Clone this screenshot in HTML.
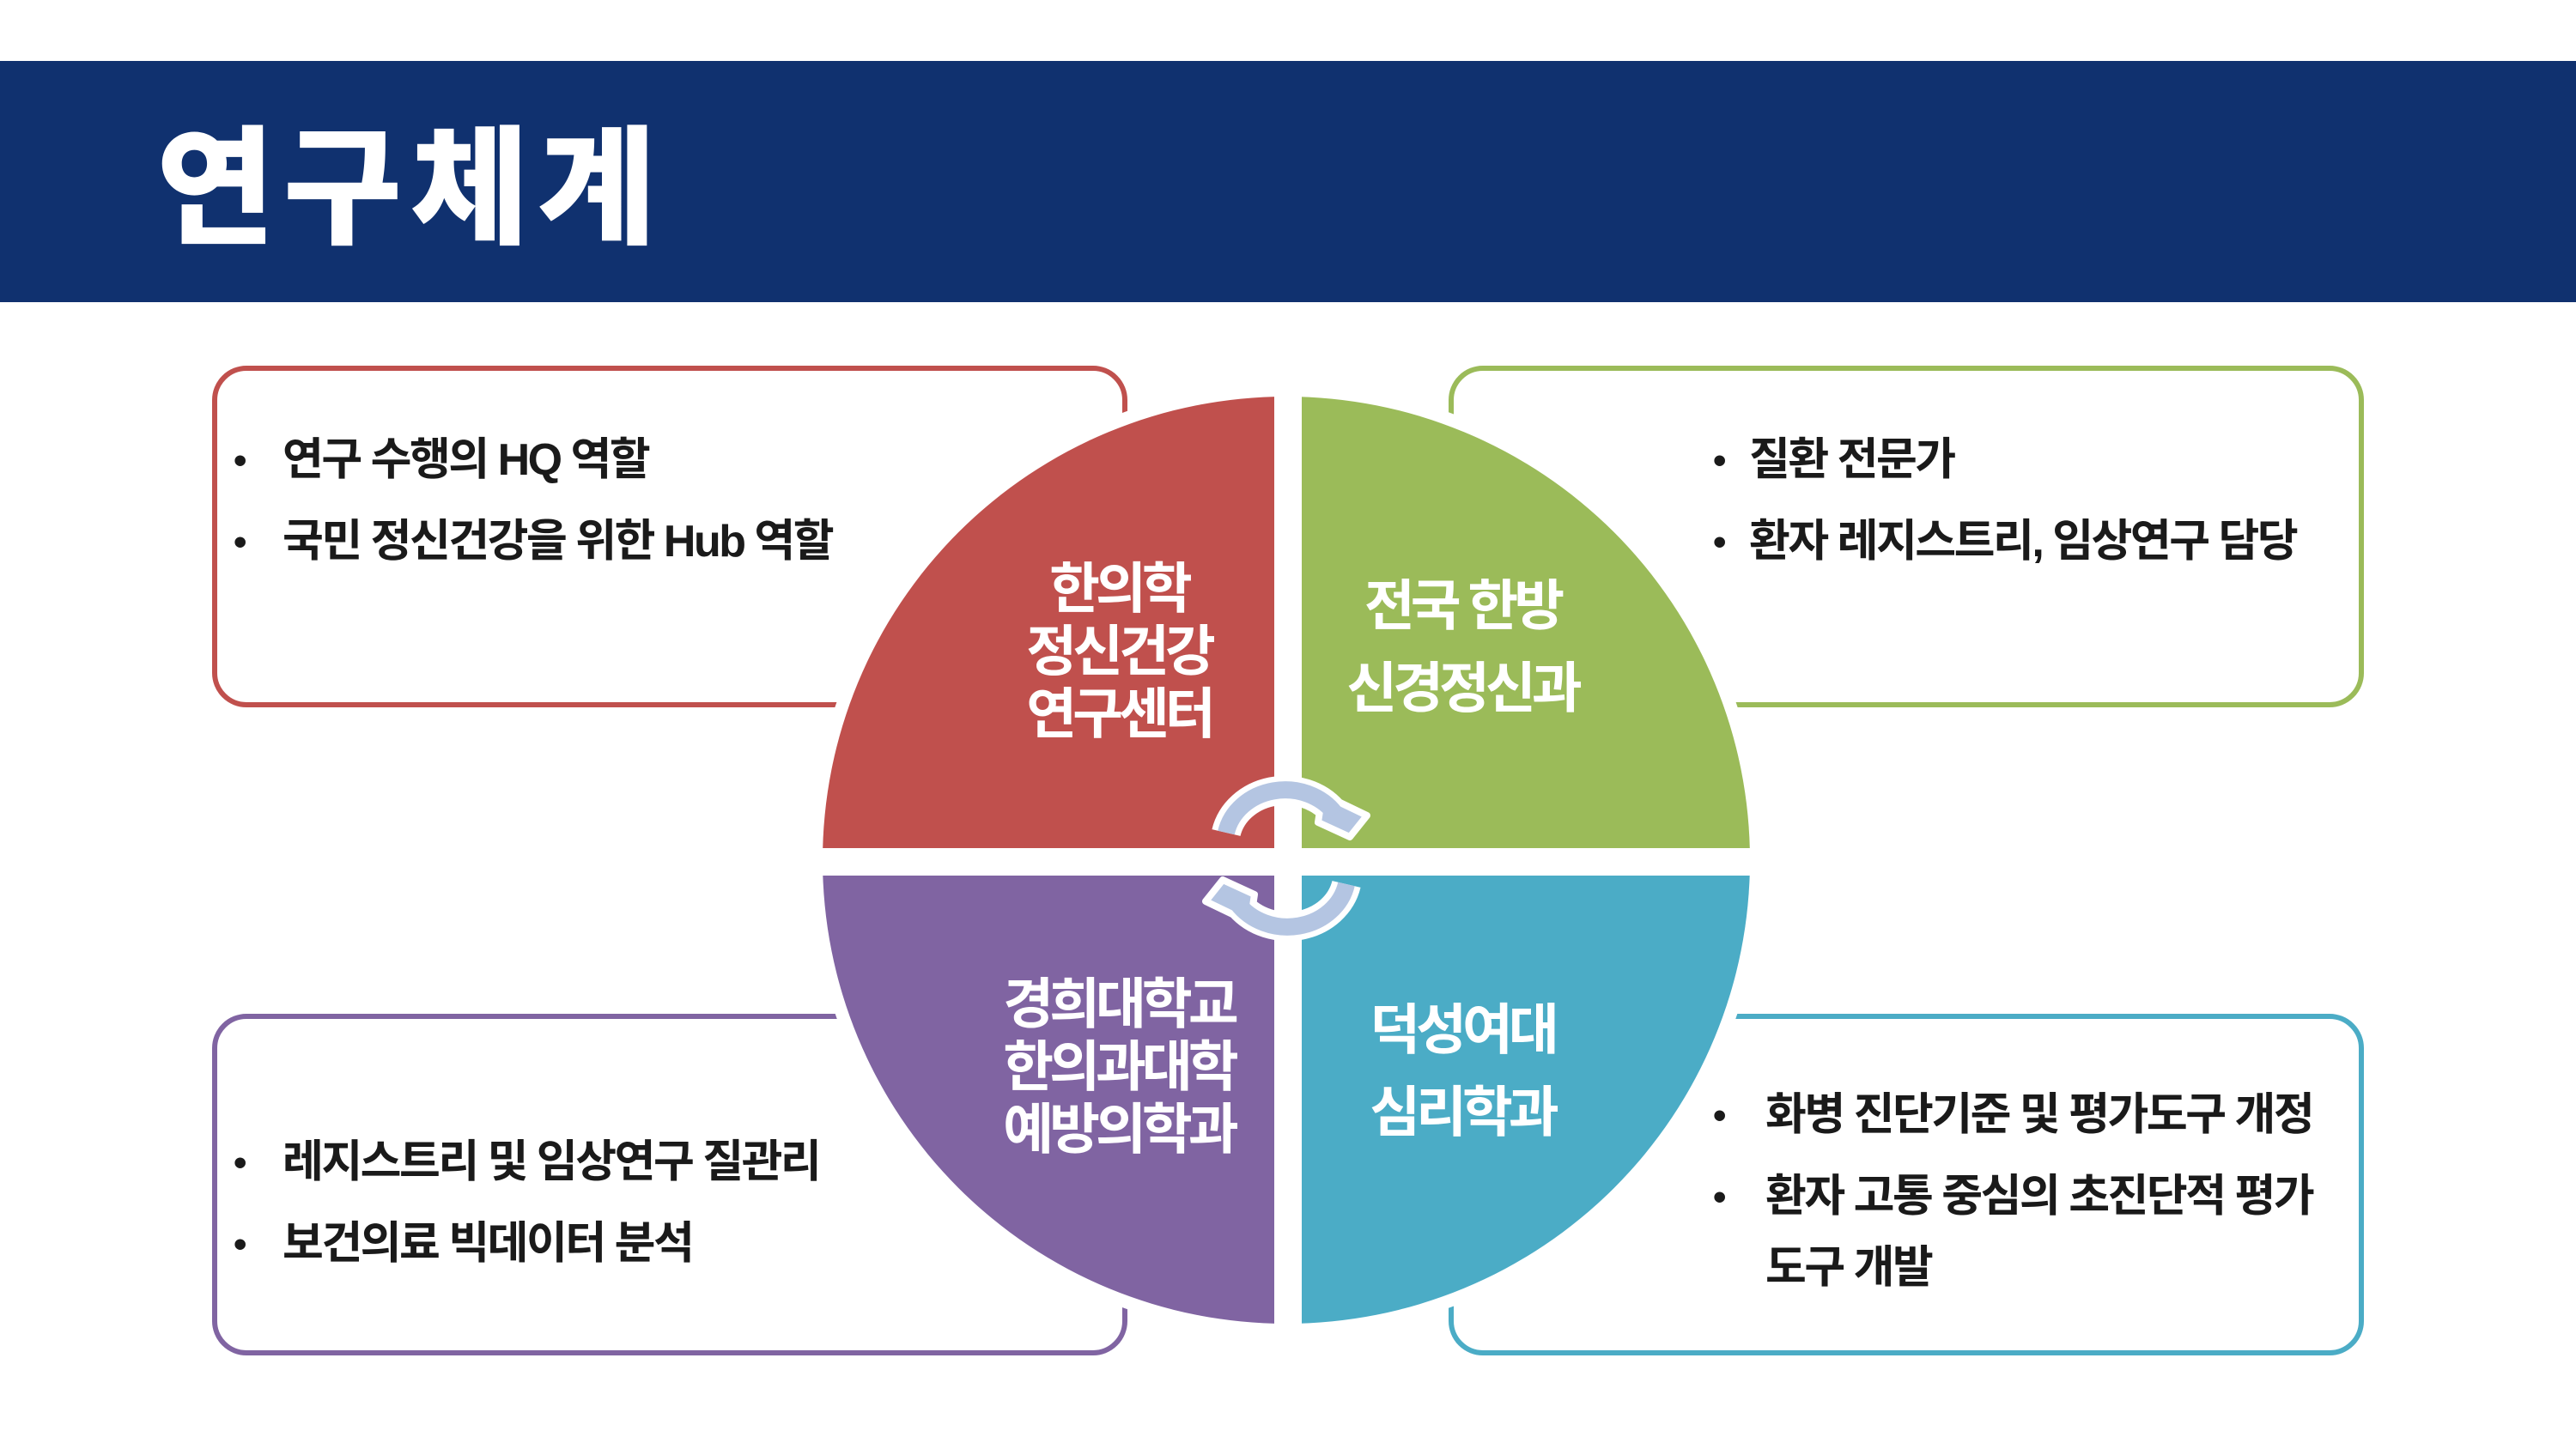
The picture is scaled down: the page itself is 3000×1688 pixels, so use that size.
<!DOCTYPE html>
<html><head><meta charset="utf-8"><style>
body{margin:0;width:3000px;height:1688px;background:#fff;position:relative;overflow:hidden;font-family:"Liberation Sans","Noto Sans CJK KR",sans-serif;}
.hdr{position:absolute;left:0;top:71px;width:3000px;height:281px;background:#10316f;}
.title{position:absolute;left:182px;top:125px;font-size:150px;font-weight:900;color:#fff;letter-spacing:10px;line-height:190px;}
.box{position:absolute;box-sizing:border-box;border:6px solid;border-radius:40px;background:#fff;}
.t{position:absolute;font-size:52px;font-weight:700;color:#1a1a1a;letter-spacing:-2.5px;line-height:95px;white-space:nowrap;margin-top:4px;}
.b{position:absolute;font-size:44px;font-weight:700;color:#1a1a1a;line-height:95px;margin-top:4px;}
.q{position:absolute;width:600px;text-align:center;color:#fff;font-weight:700;font-size:64px;letter-spacing:-5px;white-space:nowrap;}
</style></head><body>
<div class="hdr"></div>
<div class="title">연구체계</div>
<div class="box" style="left:247px;top:426px;width:1066px;height:398px;border-color:#c0504d"></div>
<div class="box" style="left:1687px;top:426px;width:1066px;height:398px;border-color:#9bbb59"></div>
<div class="box" style="left:247px;top:1181px;width:1066px;height:398px;border-color:#8064a2"></div>
<div class="box" style="left:1687px;top:1181px;width:1066px;height:398px;border-color:#4bacc6"></div>
<svg style="position:absolute;left:0;top:0" width="3000" height="1688">
<circle cx="1498" cy="1002" r="555" fill="#fff"/>
<path d="M1498 1002 L958 1002 A540 540 0 0 1 1498 462 Z" fill="#c0504d"/>
<path d="M1498 1002 L1498 462 A540 540 0 0 1 2038 1002 Z" fill="#9bbb59"/>
<path d="M1498 1002 L958 1002 A540 540 0 0 0 1498 1542 Z" fill="#8064a2"/>
<path d="M1498 1002 L1498 1542 A540 540 0 0 0 2038 1002 Z" fill="#4bacc6"/>
<rect x="1484" y="440" width="32" height="1130" fill="#fff"/>
<rect x="940" y="988" width="1120" height="32" fill="#fff"/>
<g fill="none" stroke-linecap="butt">
<path d="M1428 970 A70 62 0 0 1 1552 945" stroke="#fff" stroke-width="34"/>
<path d="M1568 1030 A70 62 0 0 1 1444 1055" stroke="#fff" stroke-width="34"/>
</g>
<polygon points="1540,925 1592,950 1572,975 1535,958" fill="#b4c5e2" stroke="#fff" stroke-width="8" stroke-linejoin="round"/>
<polygon points="1456,1075 1404,1050 1424,1025 1461,1042" fill="#b4c5e2" stroke="#fff" stroke-width="8" stroke-linejoin="round"/>
<g fill="none">
<path d="M1428 970 A70 62 0 0 1 1555 948" stroke="#b4c5e2" stroke-width="20"/>
<path d="M1568 1030 A70 62 0 0 1 1441 1052" stroke="#b4c5e2" stroke-width="20"/>
</g>
</svg>
<div class="q" style="left:1003px;top:650px;line-height:73px">한의학<br>정신건강<br>연구센터</div>
<div class="q" style="left:1403px;top:658px;line-height:96px">전국 한방<br>신경정신과</div>
<div class="q" style="left:1003px;top:1134px;line-height:73px">경희대학교<br>한의과대학<br>예방의학과</div>
<div class="q" style="left:1403px;top:1152px;line-height:96px">덕성여대<br>심리학과</div>

<div class="b" style="left:272px;top:485px">•</div><div class="t" style="left:329px;top:485px">연구 수행의 HQ 역할</div>
<div class="b" style="left:272px;top:580px">•</div><div class="t" style="left:329px;top:580px">국민 정신건강을 위한 Hub 역할</div>
<div class="b" style="left:1995px;top:485px">•</div><div class="t" style="left:2037px;top:485px">질환 전문가</div>
<div class="b" style="left:1995px;top:580px">•</div><div class="t" style="left:2037px;top:580px">환자 레지스트리, 임상연구 담당</div>
<div class="b" style="left:272px;top:1303px">•</div><div class="t" style="left:329px;top:1303px">레지스트리 및 임상연구 질관리</div>
<div class="b" style="left:272px;top:1398px">•</div><div class="t" style="left:329px;top:1398px">보건의료 빅데이터 분석</div>
<div class="b" style="left:1995px;top:1248px">•</div><div class="t" style="left:2056px;top:1248px">화병 진단기준 및 평가도구 개정</div>
<div class="b" style="left:1995px;top:1343px">•</div><div class="t" style="left:2056px;top:1343px">환자 고통 중심의 초진단적 평가</div>
<div class="t" style="left:2056px;top:1426px">도구 개발</div>
</body></html>
